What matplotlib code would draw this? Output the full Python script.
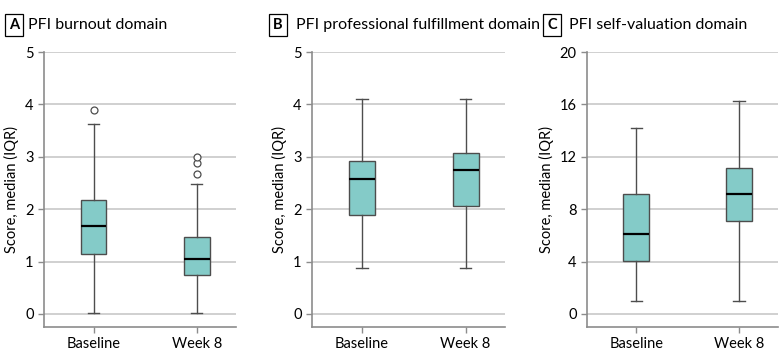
import numpy as np
import matplotlib.pyplot as plt

plt.rcParams['font.family'] = ['Lato', 'DejaVu Sans']

groups = ['Baseline', 'Week 8']
panel_letters = ['A', 'B', 'C']
panel_titles = ['PFI burnout domain', 'PFI professional fulfillment domain', 'PFI self-valuation domain']

# whislo, q1, med, q3, whishi per group
burnout_stats = [[0.02, 1.15, 1.67, 2.18, 3.62], [0.02, 0.75, 1.05, 1.46, 2.48]]
burnout_fliers = [[3.9], [2.68, 2.89, 3.0]]
fulfill_stats = [[0.87, 1.89, 2.58, 2.91, 4.1], [0.87, 2.06, 2.75, 3.08, 4.1]]
fulfill_fliers = [[], []]
selfval_stats = [[1.02, 4.05, 6.11, 9.16, 14.22], [1.02, 7.13, 9.16, 11.17, 16.25]]
selfval_fliers = [[], []]

yticks_list = [[0, 1, 2, 3, 4, 5], [0, 1, 2, 3, 4, 5], [0, 4, 8, 12, 16, 20]]

box_color = '#84cbc8'
edge_color = '#4d4d4d'
grid_color = '#c4c4c4'

fig = plt.figure(figsize=(7.8, 3.6), dpi=100)
lefts = [44 / 780, 312 / 780, 587 / 780]
widths = [192 / 780, 193 / 780, 191 / 780]
label_x = [14 / 780, 278 / 780, 552 / 780]
title_x = [28 / 780, 296 / 780, 569 / 780]

all_stats = [burnout_stats, fulfill_stats, selfval_stats]
all_fliers = [burnout_fliers, fulfill_fliers, selfval_fliers]

for i in range(3):
    ax = fig.add_axes([lefts[i], 33 / 360, widths[i], 275 / 360])
    stats = []
    for g in range(2):
        lo, q1, med, q3, hi = all_stats[i][g]
        stats.append(dict(whislo=lo, q1=q1, med=med, q3=q3, whishi=hi,
                          fliers=all_fliers[i][g], label=groups[g]))
    yt = yticks_list[i]
    for y in yt:
        ax.axhline(y, color=grid_color, lw=1.1, zorder=0)
    ax.bxp(stats, positions=[1, 2], widths=0.25, patch_artist=True,
           boxprops=dict(facecolor=box_color, edgecolor=edge_color, lw=1),
           medianprops=dict(color='black', lw=1.6),
           whiskerprops=dict(color=edge_color, lw=1),
           capprops=dict(color=edge_color, lw=1),
           capwidths=0.11,
           flierprops=dict(marker='o', markerfacecolor='white', markeredgecolor=edge_color,
                           markersize=5, markeredgewidth=0.9))
    top = yt[-1]
    ax.set_ylim(-0.05 * top, top)
    ax.set_xlim(0.52, 2.38)
    ax.set_yticks(yt)
    ax.set_xticks([1, 2])
    ax.set_xticklabels(groups)
    for s in ['top', 'right']:
        ax.spines[s].set_visible(False)
    for s in ['left', 'bottom']:
        ax.spines[s].set_color('#8c8c8c')
        ax.spines[s].set_linewidth(1.2)
    ax.tick_params(colors='#8c8c8c', labelcolor='black', labelsize=10.5, length=4, width=1)
    ax.set_ylabel('Score, median (IQR)', fontsize=10.5, labelpad=4)
    fig.text(label_x[i], 1 - 25 / 360, panel_letters[i], fontsize=10.5,
             fontweight='bold', ha='center', va='center',
             bbox=dict(boxstyle='square,pad=0.3', facecolor='white', edgecolor='black', lw=0.9))
    fig.text(title_x[i], 1 - 25 / 360, panel_titles[i], fontsize=11.5,
             ha='left', va='center')

fig.savefig('out.png', dpi=100)
